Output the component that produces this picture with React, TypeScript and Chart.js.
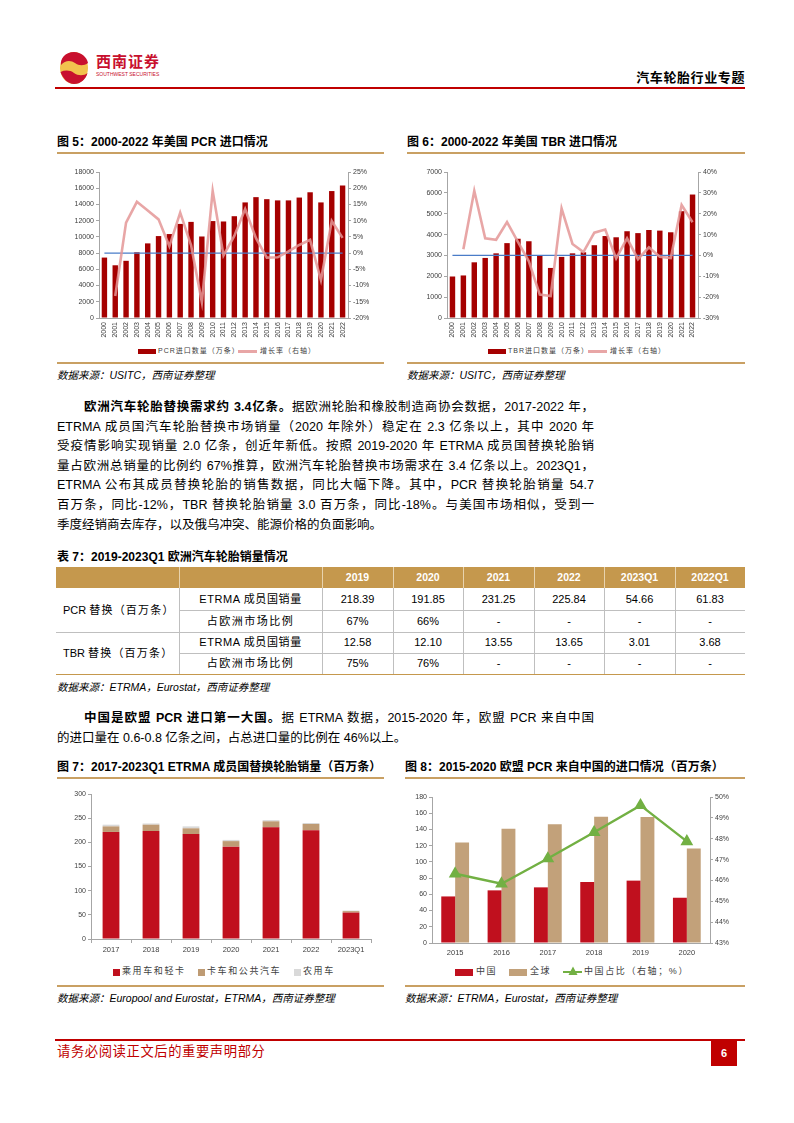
import React, { useEffect, useRef } from "react";
import { Chart, registerables } from "chart.js";

Chart.register(...registerables);

const FONT = '"Liberation Sans", "Noto Sans CJK SC", sans-serif';
Chart.defaults.font.family = FONT;

// ---------- data ----------
const usYears = ["2000","2001","2002","2003","2004","2005","2006","2007","2008","2009","2010","2011","2012","2013","2014","2015","2016","2017","2018","2019","2020","2021","2022"];
const pcrImports = [7450,6500,7050,8100,9200,10100,10350,11600,11850,10050,11950,11900,12550,14250,14900,14650,14500,14500,14850,15500,14250,15650,16350];
const pcrGrowth = [null,-13.2,9.4,15.8,13.1,10.4,2.1,12.5,2.5,-15.1,19.2,-0.7,5.3,13.6,4.6,-1.4,-1.3,0.5,2.5,4.1,-8.3,9.9,4.7];
const tbrImports = [1990,2040,2670,2880,3100,3590,3800,3680,2990,2400,2930,3100,3150,3490,3930,3870,4160,4070,4220,4190,4110,5120,5920];
const tbrGrowth = [null,3.0,31.0,8.2,7.5,16.0,6.5,-2.8,-18.8,-19.5,22.5,5.5,1.6,10.9,12.4,-1.4,8.2,-1.8,3.9,-0.6,-1.3,24.2,15.9];

const etrmaCats = ["2017","2018","2019","2020","2021","2022","2023Q1"];
const etrmaPassenger = [221.5,223.5,217,191,231,225,54.66];
const etrmaTruck = [11.5,13,12,11.5,12.5,13,3.01];
const etrmaAgri = [3.5,2.5,4,2.5,2.5,2,1.2];

const euYears = ["2015","2016","2017","2018","2019","2020"];
const euChina = [57.4,64.9,68.6,75.2,76.9,55.8];
const euGlobal = [124,140.9,146.3,155.8,155.4,116.5];
const euShare = [46.32,45.84,47.05,48.31,49.6,47.87];

const tableCols = ["2019","2020","2021","2022","2023Q1","2022Q1"];
const pcrSales = ["218.39","191.85","231.25","225.84","54.66","61.83"];
const pcrShare = ["67%","66%","-","-","-","-"];
const tbrSales = ["12.58","12.10","13.55","13.65","3.01","3.68"];
const tbrShare = ["75%","76%","-","-","-","-"];

// ---------- helpers ----------
const AX = "#A6A6A6";
const TICK = "#404040";
const fixW = (w: number) => (s: any) => { s.width = w; };
const fixH = (h: number) => (s: any) => { s.height = h; };

function ChartBox({ x, y, w, h, make }: { x: number; y: number; w: number; h: number; make: () => any }) {
  const ref = useRef<HTMLCanvasElement>(null);
  useEffect(() => {
    const chart = new Chart(ref.current as HTMLCanvasElement, make());
    return () => chart.destroy();
  }, []);
  return (
    <div style={{ position: "absolute", left: x, top: y, width: w, height: h }}>
      <canvas ref={ref} width={w} height={h} style={{ width: w, height: h, display: "block" }} />
    </div>
  );
}

const baseOpts = (padding: any) => ({
  responsive: false,
  maintainAspectRatio: false,
  animation: false,
  devicePixelRatio: 1,
  layout: { padding },
  plugins: { legend: { display: false }, tooltip: { enabled: false } },
});

const yAxis = (pos: "left" | "right", min: number, max: number, step: number, width: number, fmt?: (v: number) => string) => ({
  type: "linear",
  position: pos,
  min,
  max,
  afterFit: fixW(width),
  border: { display: true, color: AX, width: 1 },
  grid: { display: true, drawOnChartArea: false, drawTicks: true, tickLength: 3, color: AX },
  ticks: {
    stepSize: step,
    padding: 2,
    color: TICK,
    font: { size: 7 },
    callback: (v: any) => (fmt ? fmt(Number(v)) : String(v)),
  },
});

function makeUsChart(cats: string[], bars: number[], growth: (number | null)[], yMax: number, yStep: number, gMin: number, gMax: number, gStep: number, leftW: number, rightW: number) {
  return () => ({
    type: "bar",
    data: {
      labels: cats,
      datasets: [
        {
          type: "line",
          data: cats.map(() => 0),
          yAxisID: "y2",
          borderColor: "#4A7CC8",
          borderWidth: 1.3,
          pointRadius: 0,
          order: 1,
        },
        {
          type: "line",
          data: growth,
          yAxisID: "y2",
          borderColor: "rgba(228,150,150,0.85)",
          borderWidth: 2.6,
          pointRadius: 0,
          tension: 0,
          spanGaps: true,
          order: 0,
        },
        {
          type: "bar",
          data: bars,
          yAxisID: "y",
          backgroundColor: "#A50000",
          barPercentage: 0.5,
          categoryPercentage: 1,
          order: 2,
        },
      ],
    },
    options: {
      ...baseOpts({ top: 12, left: 0, right: 0, bottom: 0 }),
      scales: {
        x: {
          afterFit: fixH(27),
          border: { display: true, color: AX },
          grid: { display: false, drawTicks: false },
          ticks: { autoSkip: false, maxRotation: 90, minRotation: 90, padding: 4, color: TICK, font: { size: 7 } },
        },
        y: yAxis("left", 0, yMax, yStep, leftW),
        y2: yAxis("right", gMin, gMax, gStep, rightW, (v) => v + "%"),
      },
    },
  });
}

const makeChart7 = () => ({
  type: "bar",
  data: {
    labels: etrmaCats,
    datasets: [
      { label: "乘用车和轻卡", data: etrmaPassenger, backgroundColor: "#C0101E", barPercentage: 0.42, categoryPercentage: 1 },
      { label: "卡车和公共汽车", data: etrmaTruck, backgroundColor: "#BE9B74", barPercentage: 0.42, categoryPercentage: 1 },
      { label: "农用车", data: etrmaAgri, backgroundColor: "#D9D9D9", barPercentage: 0.42, categoryPercentage: 1 },
    ],
  },
  options: {
    ...baseOpts({ top: 9, left: 0, right: 13, bottom: 0 }),
    scales: {
      x: {
        stacked: true,
        afterFit: fixH(21),
        border: { display: true, color: AX },
        grid: { display: true, drawOnChartArea: false, tickLength: 4, color: AX, offset: true },
        ticks: { padding: 2, color: TICK, font: { size: 7.5 } },
      },
      y: { ...yAxis("left", 0, 300, 50, 34), stacked: true },
    },
  },
});

const makeChart8 = () => ({
  type: "bar",
  data: {
    labels: euYears,
    datasets: [
      {
        type: "line",
        label: "中国占比（右轴；%）",
        data: euShare,
        yAxisID: "y2",
        borderColor: "#72B043",
        backgroundColor: "#72B043",
        borderWidth: 2.4,
        pointStyle: "triangle",
        pointRadius: 5,
        pointBackgroundColor: "#72B043",
        pointBorderColor: "#72B043",
        order: 0,
      },
      { type: "bar", label: "中国", data: euChina, yAxisID: "y", backgroundColor: "#C0101E", barPercentage: 1, categoryPercentage: 0.6, order: 1 },
      { type: "bar", label: "全球", data: euGlobal, yAxisID: "y", backgroundColor: "#C2A17A", barPercentage: 1, categoryPercentage: 0.6, order: 1 },
    ],
  },
  options: {
    ...baseOpts({ top: 12, left: 0, right: 0, bottom: 0 }),
    scales: {
      x: {
        afterFit: fixH(17),
        border: { display: true, color: AX },
        grid: { display: false, drawTicks: false },
        ticks: { padding: 5, color: TICK, font: { size: 7.5 } },
      },
      y: yAxis("left", 0, 180, 20, 27),
      y2: yAxis("right", 43, 50, 1, 35, (v) => v + "%"),
    },
  },
});

// ---------- page pieces ----------
const abs = (x: number, y: number, extra: any = {}) => ({ position: "absolute" as const, left: x, top: y, ...extra });

function FigTitle({ x, w, y, text }: { x: number; w: number; y: number; text: string }) {
  return (
    <>
      <div style={abs(x, y - 8, { fontSize: 12, fontWeight: 700, lineHeight: "16px", whiteSpace: "nowrap", color: "#000" })}>{text}</div>
      <div style={abs(x, y + 10, { width: w, height: 1.5, background: "#C9A063" })} />
    </>
  );
}

function Source({ x, y, w, text }: { x: number; y: number; w: number; text: string }) {
  return (
    <>
      <div style={abs(x, y - 13, { width: w, height: 1.5, background: "#C9A063" })} />
      <div style={abs(x, y - 7, { fontSize: 10.5, fontStyle: "italic", lineHeight: "14px", whiteSpace: "nowrap", color: "#000" })}>{text}</div>
    </>
  );
}

function BarSwatch({ x, y, w, h, color }: { x: number; y: number; w: number; h: number; color: string }) {
  return <div style={abs(x, y - h / 2, { width: w, height: h, background: color })} />;
}
function LegendText({ x, y, text, size = 7, ls = 1 }: { x: number; y: number; text: string; size?: number; ls?: number }) {
  return <div style={abs(x, y - size * 0.75, { fontSize: size, lineHeight: size * 1.5 + "px", letterSpacing: ls, whiteSpace: "nowrap", color: "#404040" })}>{text}</div>;
}

function Para({ x, y, lines, indent }: { x: number; y: number; lines: React.ReactNode[]; indent: number }) {
  return (
    <>
      {lines.map((ln, i) => (
        <div
          key={i}
          style={abs(x, y + i * 19.6 - 10, {
            width: 537,
            boxSizing: "border-box",
            paddingLeft: i === 0 ? indent : 0,
            fontSize: 12.5,
            lineHeight: "20px",
            height: 20,
            color: "#000",
            textAlign: "justify",
            textAlignLast: i === lines.length - 1 ? "left" : "justify",
          })}
        >
          {ln}
        </div>
      ))}
    </>
  );
}

function DataTable() {
  const xs = [56, 179, 322, 393, 463, 534, 604, 675, 745];
  const ys = [567, 588, 610, 632, 653, 674];
  const grey = "#BFBFBF";
  const cells: React.ReactNode[] = [];
  cells.push(<div key="hbg" style={abs(xs[0], ys[0], { width: xs[8] - xs[0], height: ys[1] - ys[0], background: "#C5984D" })} />);
  for (let c = 1; c < 8; c++) {
    cells.push(<div key={"hv" + c} style={abs(xs[c], ys[0], { width: 1, height: ys[1] - ys[0], background: "#E8D3AE" })} />);
  }
  tableCols.forEach((t, i) => {
    cells.push(
      <div key={"h" + i} style={abs(xs[i + 2], ys[0], { width: xs[i + 3] - xs[i + 2], height: ys[1] - ys[0], lineHeight: ys[1] - ys[0] + "px", textAlign: "center", color: "#fff", fontWeight: 700, fontSize: 10.5 })}>{t}</div>
    );
  });
  const rows = [
    { label: "ETRMA 成员国销量", vals: pcrSales },
    { label: "占欧洲市场比例", vals: pcrShare },
    { label: "ETRMA 成员国销量", vals: tbrSales },
    { label: "占欧洲市场比例", vals: tbrShare },
  ];
  rows.forEach((r, ri) => {
    const top = ys[ri + 1];
    const h = ys[ri + 2] - top;
    cells.push(
      <div key={"l" + ri} style={abs(xs[1], top, { width: xs[2] - xs[1], height: h, lineHeight: h + "px", textAlign: "center", fontSize: 11, letterSpacing: r.label.startsWith("ETRMA") ? 0.6 : 1.5, color: "#000" })}>{r.label}</div>
    );
    r.vals.forEach((v, ci) => {
      cells.push(
        <div key={"v" + ri + "_" + ci} style={abs(xs[ci + 2], top, { width: xs[ci + 3] - xs[ci + 2], height: h, lineHeight: h + "px", textAlign: "center", fontSize: 11, color: "#000" })}>{v}</div>
      );
    });
    const full = ri % 2 === 1;
    const lx = full ? xs[0] : xs[1];
    cells.push(<div key={"hl" + ri} style={abs(lx, ys[ri + 2], { width: xs[8] - lx, height: 1, background: ri === 3 ? "#C5984D" : grey })} />);
  });
  for (let c = 1; c < 8; c++) {
    cells.push(<div key={"vl" + c} style={abs(xs[c], ys[1], { width: 1, height: ys[5] - ys[1], background: grey })} />);
  }
  const group = (key: string, latin: string, yy: number) => (
    <div key={key} style={abs(63, yy - 8, { fontSize: 11, lineHeight: "16px", whiteSpace: "nowrap" })}>
      {latin}
      <span style={{ letterSpacing: 1.2, marginLeft: 3 }}>替换（百万条）</span>
    </div>
  );
  cells.push(group("g1", "PCR", (ys[1] + ys[3]) / 2));
  cells.push(group("g2", "TBR", (ys[3] + ys[5]) / 2));
  return <>{cells}</>;
}

function Logo() {
  return (
    <svg style={abs(59, 51)} width={30} height={34} viewBox="0 0 30 34">
      <ellipse cx={15} cy={17} rx={14} ry={16} fill="#F2C24E" />
      <path d="M15 1 C6 1 1 8 2 14 C6 9 12 9 16 12 C20 15 25 15 29 12 C28 6 22 1 15 1 Z" fill="#C8102E" />
      <path d="M1.5 21 C4 28 9 33 15 33 C22 33 27 28 28.5 22 C25 25 19 25 15 22 C11 19 6 19 1.5 21 Z" fill="#C8102E" />
    </svg>
  );
}

export default function App() {
  const b = (t: string) => <b style={{ fontWeight: 700 }}>{t}</b>;
  const para1 = [
    <>{b("欧洲汽车轮胎替换需求约 3.4亿条。")}据欧洲轮胎和橡胶制造商协会数据，2017-2022 年，</>,
    <>ETRMA 成员国汽车轮胎替换市场销量（2020 年除外）稳定在 2.3 亿条以上，其中 2020 年</>,
    <>受疫情影响实现销量 2.0 亿条，创近年新低。按照 2019-2020 年 ETRMA 成员国替换轮胎销</>,
    <>量占欧洲总销量的比例约 67%推算，欧洲汽车轮胎替换市场需求在 3.4 亿条以上。2023Q1，</>,
    <>ETRMA 公布其成员替换轮胎的销售数据，同比大幅下降。其中，PCR 替换轮胎销量 54.7</>,
    <>百万条，同比-12%，TBR 替换轮胎销量 3.0 百万条，同比-18%。与美国市场相似，受到一</>,
    <>季度经销商去库存，以及俄乌冲突、能源价格的负面影响。</>,
  ];
  const para2 = [
    <>{b("中国是欧盟 PCR 进口第一大国。")}据 ETRMA 数据，2015-2020 年，欧盟 PCR 来自中国</>,
    <>的进口量在 0.6-0.8 亿条之间，占总进口量的比例在 46%以上。</>,
  ];

  return (
    <div style={{ position: "absolute", left: 0, top: 0, width: 794, height: 1123, background: "#fff", fontFamily: FONT, color: "#000", overflow: "hidden" }}>
      {/* header */}
      <Logo />
      <div style={abs(96, 53, { fontSize: 15, fontWeight: 700, color: "#C8102E", letterSpacing: 1, lineHeight: "18px", whiteSpace: "nowrap" })}>西南证券</div>
      <div style={abs(96, 71, { fontSize: 5, color: "#C8102E", lineHeight: "7px", whiteSpace: "nowrap" })}>SOUTHWEST SECURITIES</div>
      <div style={abs(560, 70, { width: 185, textAlign: "right", fontSize: 13, fontWeight: 700, lineHeight: "16px", letterSpacing: 0.6, whiteSpace: "nowrap" })}>汽车轮胎行业专题</div>
      <div style={abs(55, 87, { width: 690, height: 1.5, background: "#C00000" })} />

      {/* figures 5 & 6 */}
      <FigTitle x={57} w={327} y={142} text="图 5：2000-2022 年美国 PCR 进口情况" />
      <FigTitle x={407} w={338} y={142} text="图 6：2000-2022 年美国 TBR 进口情况" />
      <ChartBox x={57} y={160} w={327} h={185} make={makeUsChart(usYears, pcrImports, pcrGrowth, 18000, 2000, -20, 25, 5, 42, 36)} />
      <ChartBox x={407} y={160} w={338} h={185} make={makeUsChart(usYears, tbrImports, tbrGrowth, 7000, 1000, -30, 40, 10, 40, 47)} />
      <BarSwatch x={138} y={351} w={18} h={5} color="#A50000" />
      <LegendText x={158} y={351} text="PCR进口数量（万条）" />
      <div style={abs(238, 349.5, { width: 19, height: 3, background: "rgba(228,150,150,0.85)" })} />
      <LegendText x={260} y={351} text="增长率（右轴）" />
      <BarSwatch x={488} y={351} w={18} h={5} color="#A50000" />
      <LegendText x={508} y={351} text="TBR进口数量（万条）" />
      <div style={abs(588, 349.5, { width: 19, height: 3, background: "rgba(228,150,150,0.85)" })} />
      <LegendText x={610} y={351} text="增长率（右轴）" />
      <Source x={57} y={375} w={327} text="数据来源：USITC，西南证券整理" />
      <Source x={407} y={375} w={338} text="数据来源：USITC，西南证券整理" />

      {/* paragraph 1 */}
      <Para x={57} y={407} lines={para1} indent={27} />

      {/* table 7 */}
      <div style={abs(57, 549, { fontSize: 12, fontWeight: 700, lineHeight: "16px", whiteSpace: "nowrap" })}>表 7：2019-2023Q1 欧洲汽车轮胎销量情况</div>
      <DataTable />
      <div style={abs(57, 680, { fontSize: 10.5, fontStyle: "italic", lineHeight: "14px", whiteSpace: "nowrap" })}>数据来源：ETRMA，Eurostat，西南证券整理</div>

      {/* paragraph 2 */}
      <Para x={57} y={718} lines={para2} indent={27} />

      {/* figures 7 & 8 */}
      <FigTitle x={57} w={327} y={767} text="图 7：2017-2023Q1 ETRMA 成员国替换轮胎销量（百万条）" />
      <FigTitle x={405} w={340} y={767} text="图 8：2015-2020 欧盟 PCR 来自中国的进口情况（百万条）" />
      <ChartBox x={57} y={785} w={327} h={175} make={makeChart7} />
      <ChartBox x={405} y={785} w={340} h={175} make={makeChart8} />
      <BarSwatch x={113} y={972} w={7} h={7} color="#C0101E" />
      <LegendText x={122} y={972} text="乘用车和轻卡" size={9} ls={1.6} />
      <BarSwatch x={198} y={972} w={7} h={7} color="#BE9B74" />
      <LegendText x={207} y={972} text="卡车和公共汽车" size={9} ls={1.6} />
      <BarSwatch x={294} y={972} w={7} h={7} color="#D9D9D9" />
      <LegendText x={303} y={972} text="农用车" size={9} ls={1.6} />
      <BarSwatch x={455} y={972} w={18} h={7} color="#C0101E" />
      <LegendText x={476} y={972} text="中国" size={9} ls={1.6} />
      <BarSwatch x={509} y={972} w={18} h={7} color="#C2A17A" />
      <LegendText x={530} y={972} text="全球" size={9} ls={1.6} />
      <div style={abs(563, 971, { width: 19, height: 2.4, background: "#72B043" })} />
      <svg style={abs(568, 966)} width={10} height={10} viewBox="0 0 10 10"><polygon points="5,0.5 9.5,9 0.5,9" fill="#72B043" /></svg>
      <LegendText x={584} y={972} text="中国占比（右轴；%）" size={9} ls={1.6} />
      <Source x={57} y={998} w={327} text="数据来源：Europool and Eurostat，ETRMA，西南证券整理" />
      <Source x={405} y={998} w={340} text="数据来源：ETRMA，Eurostat，西南证券整理" />

      {/* footer */}
      <div style={abs(55, 1039, { width: 690, height: 1.5, background: "#C00000" })} />
      <div style={abs(57, 1043, { fontSize: 13.3, color: "#C00000", letterSpacing: 0.6, lineHeight: "18px", whiteSpace: "nowrap" })}>请务必阅读正文后的重要声明部分</div>
      <div style={abs(711, 1041, { width: 26, height: 25, background: "#C00000", color: "#fff", fontSize: 11, fontWeight: 700, lineHeight: "25px", textAlign: "center" })}>6</div>
    </div>
  );
}
